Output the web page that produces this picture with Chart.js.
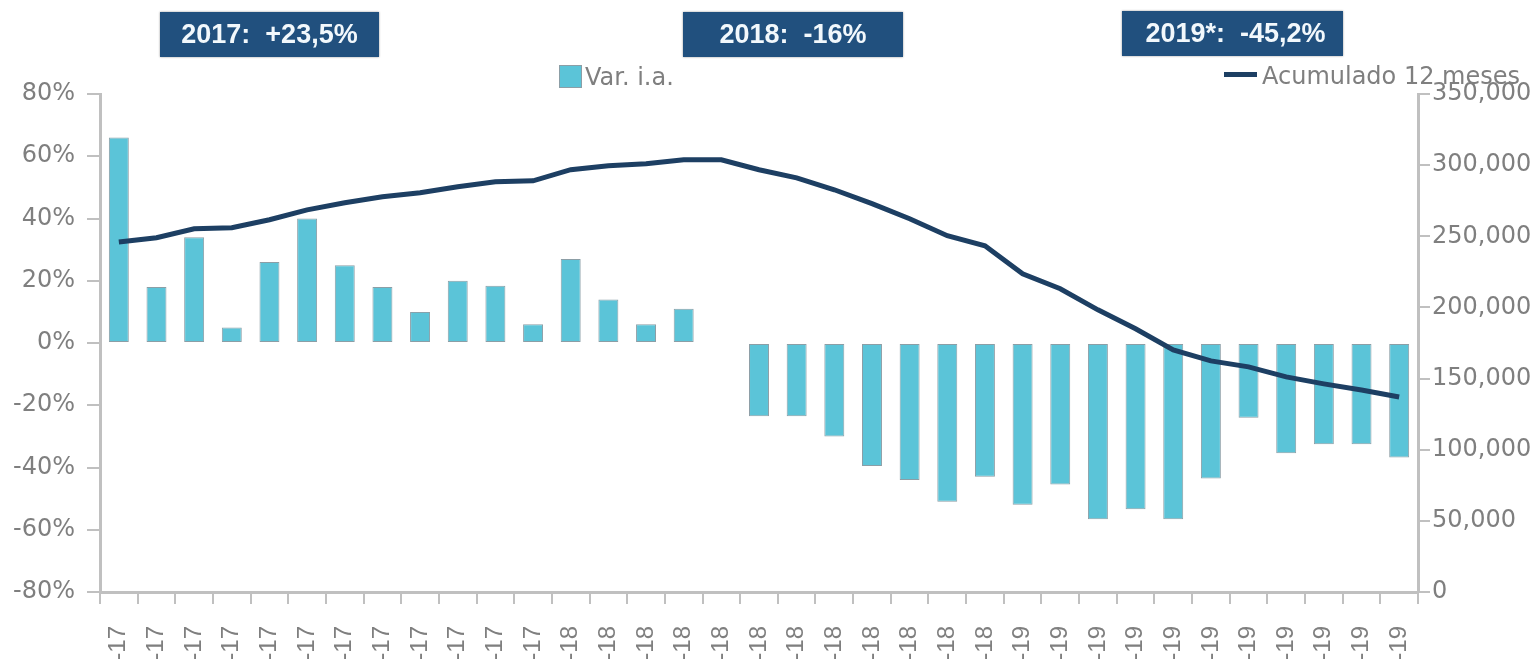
<!DOCTYPE html>
<html>
<head>
<meta charset="utf-8">
<script src="https://cdn.jsdelivr.net/npm/chart.js@4"></script>
<style>
  body { margin: 0; background: #fff; overflow: hidden; }
  #wrap { position: relative; width: 1537px; height: 760px; }
  .box {
    position: absolute; height: 45px; background: #21507e;
    color: #f2f8fc; font: bold 27px "Liberation Sans", Arial, sans-serif;
    line-height: 45px; text-align: center; white-space: pre;
    box-shadow: 0 0 2px #999;
  }
  .leg {
    position: absolute; font: 24px "DejaVu Sans", sans-serif; color: #7f7f7f;
    white-space: nowrap; line-height: 28px;
  }
  .leg .sq {
    display: inline-block; width: 21px; height: 21px; background: #5bc4d8;
    border: 1px solid #8c9ea6; vertical-align: -3px; margin-right: 3px;
  }
  .leg .ln {
    display: inline-block; width: 33px; height: 5px; background: #1d3f63;
    vertical-align: 7px; margin-right: 5px;
  }
</style>
</head>
<body>
<div id="wrap">
  <canvas id="chart" width="1537" height="760"></canvas>
  <div class="box" style="left:160px;top:12px;width:219px;">2017:  +23,5%</div>
  <div class="box" style="left:683px;top:12px;width:220px;">2018:  -16%</div>
  <div class="box" style="left:1122px;top:11px;width:221px;padding-left:6px;box-sizing:border-box;">2019*:  -45,2%</div>
  <div class="leg" style="left:559px;top:63px;"><span class="sq"></span>Var. i.a.</div>
  <div class="leg" style="left:1224px;top:62px;"><span class="ln"></span>Acumulado 12 meses</div>
</div>
<script>
// month labels (only the year part shows in the picture)
const months = ['ene', 'feb', 'mar', 'abr', 'may', 'jun', 'jul', 'ago', 'sep', 'oct', 'nov', 'dic'];
const labels = [];
['17', '18', '19'].forEach(y => months.forEach(m => labels.push(m + '-' + y)));
labels.length = 35;

// year-on-year change, %
const varIA = [66, 18, 34, 5, 26, 40, 25, 18, 10, 20, 18.4, 6,
  27, 14, 6, 11, 0, -23.5, -23.5, -30, -39.5, -44, -51, -43,
  -52, -45.5, -56.6, -53.4, -56.6, -43.5, -24, -35.4, -32.5, -32.5, -36.8];

// rolling 12-month total
const acumulado = [246000, 249000, 255300, 256000, 261600, 268600, 273600, 277800, 280600, 284800, 288300, 289000,
  296800, 299600, 301000, 303800, 303800, 296800, 291100, 282700, 272900, 262300, 250400, 243300,
  223600, 213100, 198300, 185000, 170200, 162400, 158200, 151200, 146300, 142000, 137100];

const axisGray = '#c0c0c0';
const textGray = '#7f7f7f';
const tickFont = { family: 'DejaVu Sans', size: 24 };

new Chart(document.getElementById('chart').getContext('2d'), {
  type: 'bar',
  data: {
    labels,
    datasets: [
      {
        type: 'line',
        label: 'Acumulado 12 meses',
        data: acumulado,
        yAxisID: 'y1',
        borderColor: '#1d3f63',
        borderWidth: 5,
        pointRadius: 0,
        tension: 0,
        order: 0
      },
      {
        label: 'Var. i.a.',
        data: varIA,
        yAxisID: 'y',
        backgroundColor: '#5bc4d8',
        borderColor: '#8c9ea6',
        borderWidth: 1,
        borderSkipped: false,
        barPercentage: 0.53,
        categoryPercentage: 1,
        order: 1
      }
    ]
  },
  options: {
    responsive: false,
    animation: false,
    layout: { padding: { top: 94, left: 0, right: 0, bottom: 0 } },
    plugins: { legend: { display: false }, tooltip: { enabled: false } },
    scales: {
      x: {
        grid: { display: true, drawOnChartArea: false, color: axisGray, lineWidth: 2, tickLength: 12 },
        border: { color: axisGray, width: 3 },
        ticks: {
          color: textGray, font: { family: 'Liberation Sans', size: 24 },
          minRotation: 90, maxRotation: 90, autoSkip: false, padding: 22
        },
        afterFit: s => { s.height = 168; }
      },
      y: {
        position: 'left',
        min: -80, max: 80,
        grid: { display: true, drawOnChartArea: false, color: axisGray, lineWidth: 2, tickLength: 13 },
        border: { color: axisGray, width: 3 },
        ticks: { stepSize: 20, color: textGray, font: tickFont, padding: 12, callback: v => v + '%' },
        afterFit: s => { s.width = 100; }
      },
      y1: {
        position: 'right',
        min: 0, max: 350000,
        grid: { display: true, drawOnChartArea: false, color: axisGray, lineWidth: 2, tickLength: 12 },
        border: { color: axisGray, width: 3 },
        ticks: {
          stepSize: 50000, color: textGray, font: tickFont, padding: 2,
          callback: v => v.toLocaleString('en-US')
        },
        afterFit: s => { s.width = 119; }
      }
    }
  }
});
</script>
</body>
</html>
